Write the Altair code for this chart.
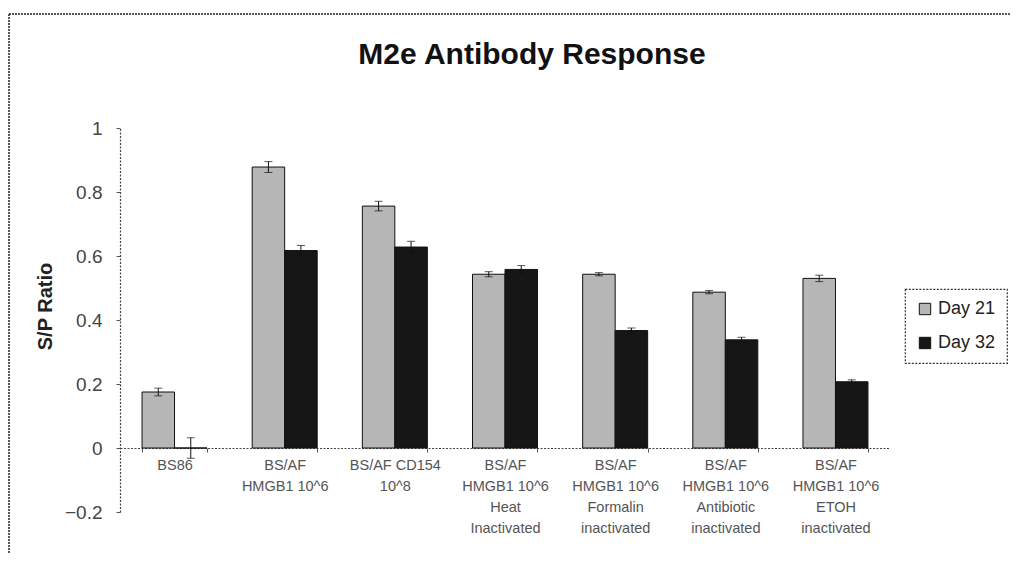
import altair as alt
import pandas as pd

categories = [
    "BS86",
    "BS/AF|HMGB1 10^6",
    "BS/AF CD154|10^8",
    "BS/AF|HMGB1 10^6|Heat|Inactivated",
    "BS/AF|HMGB1 10^6|Formalin|inactivated",
    "BS/AF|HMGB1 10^6|Antibiotic|inactivated",
    "BS/AF|HMGB1 10^6|ETOH|inactivated",
]
series = ["Day 21", "Day 32"]
day21 = [0.175, 0.878, 0.756, 0.543, 0.543, 0.487, 0.530]
day32 = [0.0, 0.617, 0.628, 0.558, 0.367, 0.338, 0.207]
err21 = [0.012, 0.017, 0.015, 0.008, 0.005, 0.005, 0.010]
err32 = [0.032, 0.016, 0.018, 0.012, 0.008, 0.008, 0.006]

rows = []
for i, c in enumerate(categories):
    for s, vals, errs in (("Day 21", day21, err21), ("Day 32", day32, err32)):
        rows.append({"cat": c, "series": s, "v": vals[i],
                     "lo": vals[i] - errs[i], "hi": vals[i] + errs[i]})
df = pd.DataFrame(rows)

FONT = "Liberation Sans"

x = alt.X(
    "cat:N", sort=categories,
    scale=alt.Scale(paddingInner=0.41, paddingOuter=0.2),
    axis=alt.Axis(
        title=None, labelAngle=0, labelExpr="split(datum.label, '|')",
        offset=-64, tickBand="extent", tickSize=4, tickColor="#555",
        domainColor="#444", domainDash=[2, 1.5], domainWidth=1.2,
        labelFontSize=14.5, labelColor="#555", labelLineHeight=21,
        labelPadding=6, labelFont=FONT, labelBaseline="top",
    ),
)
xo = alt.XOffset("series:N", sort=series,
                 scale=alt.Scale(paddingInner=0, paddingOuter=0))
yscale = alt.Scale(domain=[-0.2, 1], nice=False, zero=False)
yaxis = alt.Axis(
    values=[-0.2, 0, 0.2, 0.4, 0.6, 0.8, 1], format=".1~f", grid=False,
    tickSize=4, tickColor="#555", domainColor="#444", domainDash=[2, 1.5],
    domainWidth=1.2, labelFontSize=19, labelColor="#444", labelPadding=14,
    labelFont=FONT, title="S/P Ratio", titleFontSize=20, titleFont=FONT,
    titleFontWeight="bold", titleColor="#222", titleX=-75, titleY=178,
    titleAngle=270, titleBaseline="middle", titleAlign="center",
)

base = alt.Chart(df)
bars = base.mark_bar(stroke="#111", strokeWidth=1).encode(
    x=x, xOffset=xo,
    y=alt.Y("v:Q", scale=yscale, axis=yaxis),
    color=alt.Color(
        "series:N",
        scale=alt.Scale(domain=series, range=["#b6b6b6", "#161616"]),
        legend=alt.Legend(
            title=None, orient="none", legendX=785, legendY=161,
            symbolType="square", symbolSize=130, symbolStrokeColor="#111",
            symbolStrokeWidth=1, labelFontSize=18, labelFont=FONT,
            labelColor="#222", rowPadding=16, padding=11,
            strokeColor="#333",
        ),
    ),
)
rules = base.mark_rule(color="#111", strokeWidth=1).encode(
    x=x, xOffset=xo, y=alt.Y("lo:Q", scale=yscale), y2="hi:Q")
caps_hi = base.mark_tick(color="#111", thickness=1, size=8).encode(
    x=x, xOffset=xo, y=alt.Y("hi:Q", scale=yscale))
caps_lo = base.mark_tick(color="#111", thickness=1, size=8).encode(
    x=x, xOffset=xo, y=alt.Y("lo:Q", scale=yscale))

frame_df = pd.DataFrame({"f": [0]})
frame_left = alt.Chart(frame_df).mark_rule(
    color="#222", strokeWidth=1.5, strokeDash=[2, 1]).encode(
    x=alt.value(-111), y=alt.value(-114), y2=alt.value(430))
frame_top = alt.Chart(frame_df).mark_rule(
    color="#222", strokeWidth=1.5, strokeDash=[2, 1]).encode(
    x=alt.value(-111), x2=alt.value(900), y=alt.value(-114))

chart = (
    alt.layer(bars, rules, caps_hi, caps_lo, frame_left, frame_top)
    .properties(
        width=770, height=384,
        title=alt.Title("M2e Antibody Response", fontSize=30, font=FONT,
                        fontWeight="bold", color="#111", anchor="middle",
                        frame="group", offset=-57, dx=27),
        padding={"left": 112, "top": 120, "right": 121, "bottom": 41},
        autosize=alt.AutoSizeParams(type="none"),
    )
    .configure(font=FONT)
    .configure_view(stroke=None)
    .configure_legend(strokeDash=[2, 1.5], strokeWidth=1.2)
)

chart.save("out.html", embed_options={"renderer": "svg", "actions": False})
